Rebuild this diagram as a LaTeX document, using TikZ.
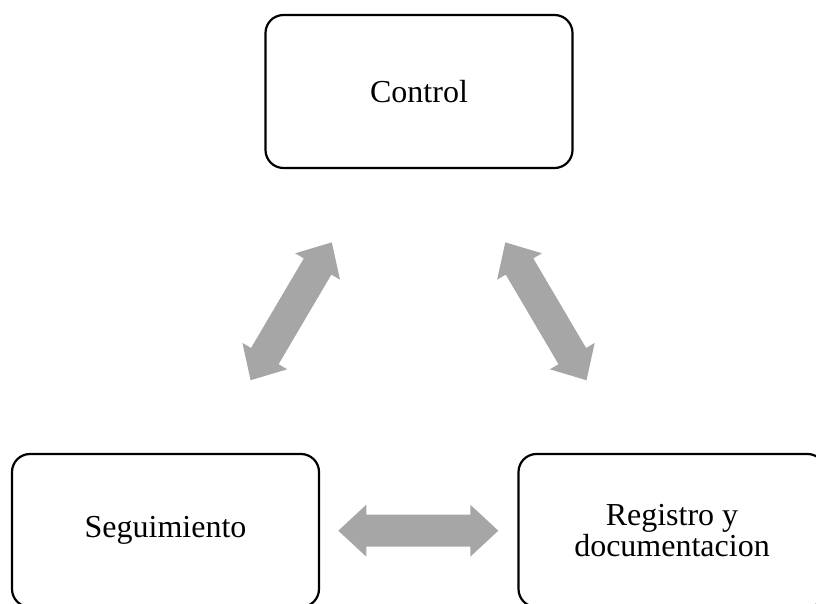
\documentclass[tikz,border=0pt]{standalone}
\usepackage{fontspec}
\setmainfont{Liberation Serif}
\begin{document}
\begin{tikzpicture}[x=1pt,y=1pt,
  stagebox/.style={draw=black, line width=2.2pt, rounded corners=18pt,
    minimum width=307pt, minimum height=153pt, align=center,
    inner sep=0pt, font=\fontsize{32}{31}\selectfont},
  blockarrow/.pic={
    \fill[arrowgray] (-80,0) -- (-52,26) -- (-52,16) -- (52,16) -- (52,26)
      -- (80,0) -- (52,-26) -- (52,-16) -- (-52,-16) -- (-52,-26) -- cycle;
  }]
\definecolor{arrowgray}{HTML}{A6A6A6}
\useasboundingbox (0,0) rectangle (816,603);

% the three stages of the cycle
\node[stagebox] (control) at (419,511.5) {Control};
\node[stagebox] (seguimiento) at (165.5,72.5) {Seguimiento};
\node[stagebox] (registro) at (672,72.5) {Registro y\\documentacion};

% centres of the two-way block arrows between the stages
\coordinate (ctrlseg) at (291.2,291.7);
\coordinate (ctrlreg) at (545.9,291.7);
\coordinate (segreg) at (418.3,72.3);

\pic[rotate=59.5] at (ctrlseg) {blockarrow};
\pic[rotate=-59.5] at (ctrlreg) {blockarrow};
\pic at (segreg) {blockarrow};
\end{tikzpicture}
\end{document}
